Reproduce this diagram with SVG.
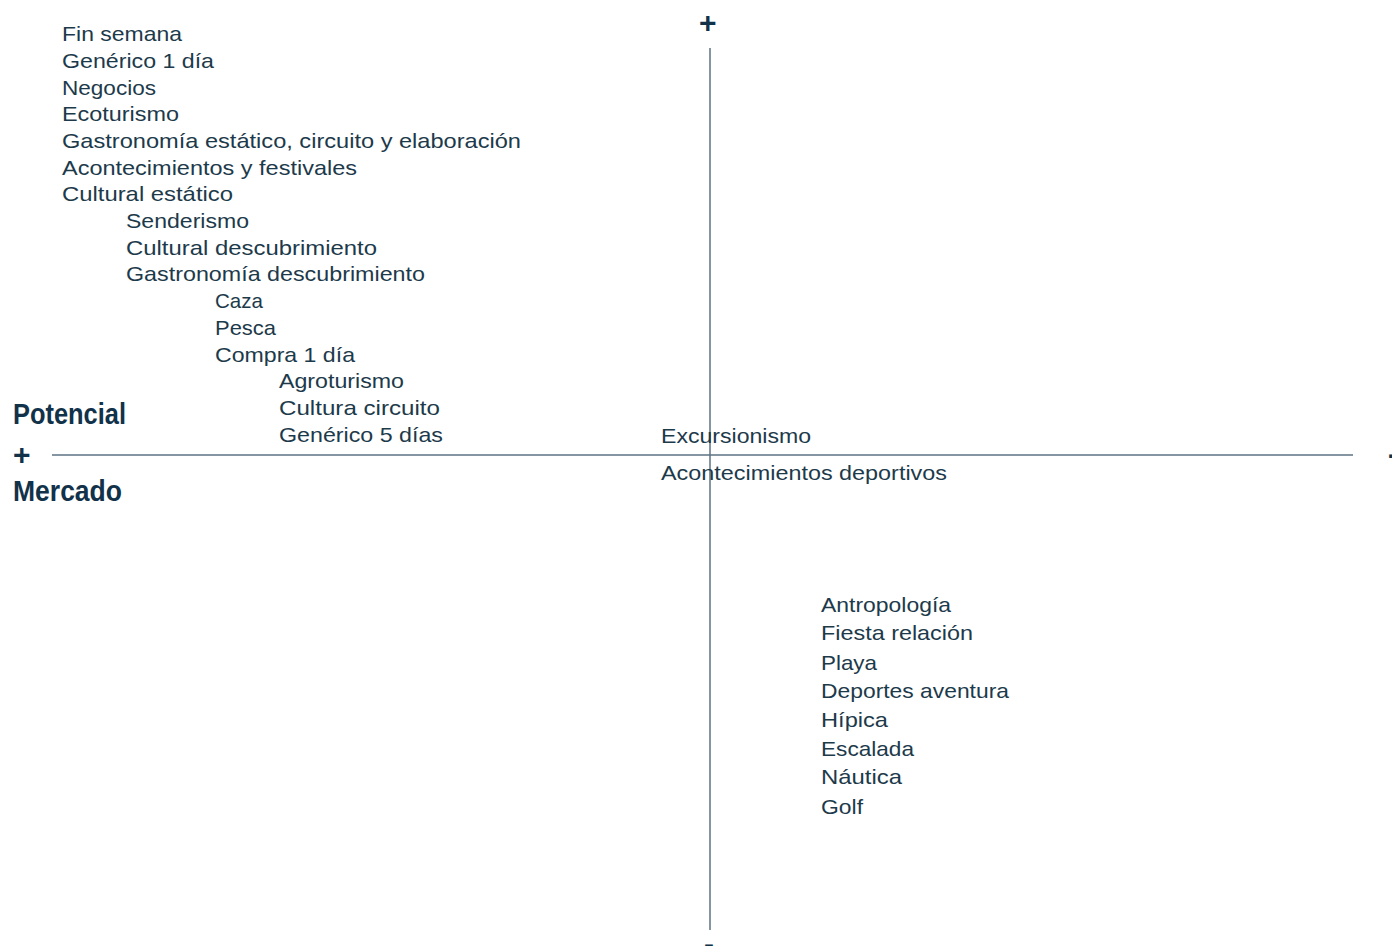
<svg xmlns="http://www.w3.org/2000/svg" width="1392" height="946" viewBox="0 0 1392 946">
<style>
.t{font-family:"Liberation Sans","Noto Sans",sans-serif;font-size:21px;fill:#1d3a4b}
.b{font-family:"Liberation Sans Narrow","Liberation Sans",sans-serif;font-weight:bold;font-size:29px;fill:#12324a}
.s{font-family:"Liberation Sans",sans-serif;font-weight:bold;font-size:30px;fill:#12324a}
.ax{stroke:#5d7383;stroke-width:1.5;fill:none}
</style>
<rect width="1392" height="946" fill="#fff"/>
<g id="axes">
<line class="ax" x1="52" y1="455" x2="1353" y2="455"/>
<line class="ax" x1="710" y1="48" x2="710" y2="930"/>
</g>
<g id="axis-labels">
<text class="b" x="13" y="424" textLength="113" lengthAdjust="spacingAndGlyphs">Potencial</text>
<text class="s" x="13" y="465">+</text>
<text class="b" x="13" y="501" textLength="109" lengthAdjust="spacingAndGlyphs">Mercado</text>
<text class="s" x="699" y="33">+</text>
<text class="s" x="1388" y="464">-</text>
<text class="s" x="704" y="954">-</text>
</g>
<g id="quadrant-top-left">
<text class="t" x="62" y="41" textLength="120" lengthAdjust="spacingAndGlyphs">Fin semana</text>
<text class="t" x="62" y="68" textLength="152" lengthAdjust="spacingAndGlyphs">Genérico 1 día</text>
<text class="t" x="62" y="95" textLength="94" lengthAdjust="spacingAndGlyphs">Negocios</text>
<text class="t" x="62" y="121" textLength="117" lengthAdjust="spacingAndGlyphs">Ecoturismo</text>
<text class="t" x="62" y="148" textLength="459" lengthAdjust="spacingAndGlyphs">Gastronomía estático, circuito y elaboración</text>
<text class="t" x="62" y="175" textLength="295" lengthAdjust="spacingAndGlyphs">Acontecimientos y festivales</text>
<text class="t" x="62" y="201" textLength="171" lengthAdjust="spacingAndGlyphs">Cultural estático</text>
<text class="t" x="126" y="228" textLength="123" lengthAdjust="spacingAndGlyphs">Senderismo</text>
<text class="t" x="126" y="255" textLength="251" lengthAdjust="spacingAndGlyphs">Cultural descubrimiento</text>
<text class="t" x="126" y="281" textLength="299" lengthAdjust="spacingAndGlyphs">Gastronomía descubrimiento</text>
<text class="t" x="215" y="308" textLength="48" lengthAdjust="spacingAndGlyphs">Caza</text>
<text class="t" x="215" y="335" textLength="61" lengthAdjust="spacingAndGlyphs">Pesca</text>
<text class="t" x="215" y="362" textLength="140" lengthAdjust="spacingAndGlyphs">Compra 1 día</text>
<text class="t" x="279" y="388" textLength="125" lengthAdjust="spacingAndGlyphs">Agroturismo</text>
<text class="t" x="279" y="415" textLength="161" lengthAdjust="spacingAndGlyphs">Cultura circuito</text>
<text class="t" x="279" y="442" textLength="164" lengthAdjust="spacingAndGlyphs">Genérico 5 días</text>
</g>
<g id="center">
<text class="t" x="661" y="443" textLength="150" lengthAdjust="spacingAndGlyphs">Excursionismo</text>
<text class="t" x="661" y="480" textLength="286" lengthAdjust="spacingAndGlyphs">Acontecimientos deportivos</text>
</g>
<g id="quadrant-bottom-right">
<text class="t" x="821" y="612" textLength="130" lengthAdjust="spacingAndGlyphs">Antropología</text>
<text class="t" x="821" y="640" textLength="152" lengthAdjust="spacingAndGlyphs">Fiesta relación</text>
<text class="t" x="821" y="670" textLength="56" lengthAdjust="spacingAndGlyphs">Playa</text>
<text class="t" x="821" y="698" textLength="188" lengthAdjust="spacingAndGlyphs">Deportes aventura</text>
<text class="t" x="821" y="727" textLength="67" lengthAdjust="spacingAndGlyphs">Hípica</text>
<text class="t" x="821" y="756" textLength="93" lengthAdjust="spacingAndGlyphs">Escalada</text>
<text class="t" x="821" y="784" textLength="81" lengthAdjust="spacingAndGlyphs">Náutica</text>
<text class="t" x="821" y="814" textLength="42" lengthAdjust="spacingAndGlyphs">Golf</text>
</g>
</svg>
